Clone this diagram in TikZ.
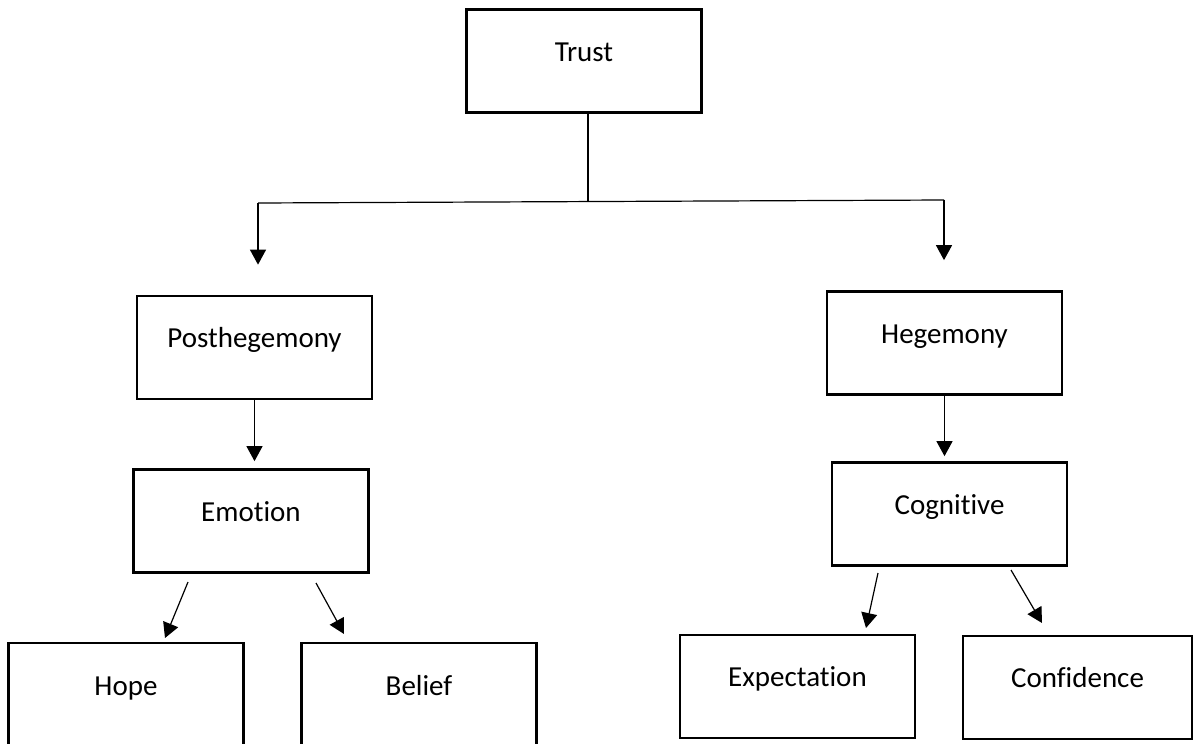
\documentclass[tikz,border=0pt]{standalone}
\usepackage{fontspec}
\setmainfont[Ligatures=NoCommon]{Carlito}
\usetikzlibrary{arrows.meta}

\tikzset{
  box/.style={draw, line width=2.7pt, rectangle, minimum width=235pt,
    minimum height=103pt, inner sep=0pt, text height=10pt, text depth=10pt,
    font=\fontsize{29}{35}\selectfont},
  thinline/.style={line width=1.2pt},
  arr/.style={thinline, -{Triangle[length=15pt,width=16pt]}}
}

\begin{document}
\begin{tikzpicture}[x=1pt,y=-1pt]
  \useasboundingbox[fill=white] (0,0) rectangle (1194,744);

  % boxes
  \node[box] (trust)  at (584,61)      {Trust};
  \node[box] (post)   at (254.5,347.5) {Posthegemony};
  \node[box] (hege)   at (944.5,343)   {Hegemony};
  \node[box] (emo)    at (251,521)     {Emotion};
  \node[box] (cog)    at (949.5,514)   {Cognitive};
  \node[box, minimum height=104pt] (hope)   at (126,695)   {Hope};
  \node[box, minimum height=104pt] (belief) at (419,695)   {Belief};
  \node[box] (expect) at (797.5,686.5) {Expectation};
  \node[box, minimum width=229pt] (conf) at (1077.5,687.5) {Confidence};

  % branching from Trust
  \coordinate (j)  at (588,202);
  \coordinate (jl) at (258,203);
  \coordinate (jr) at (944,200);
  \draw[thinline] (trust.south -| j) -- (j);
  \draw[thinline] (jl) -- (jr);
  \draw[arr, shorten >=30pt] (jl) -- (post.north -| jl);
  \draw[arr, shorten >=30pt] (jr) -- (hege.north -| jr);

  % second level
  \draw[arr, shorten >=7pt] (post.south) -- (emo.north -| post.south);
  \draw[arr, shorten >=5pt] (hege.south) -- (cog.north -| hege.south);

  % third level
  \coordinate (e1s) at (188,582);  \coordinate (e1t) at (165,638);
  \coordinate (e2s) at (316,583);  \coordinate (e2t) at (344,634);
  \coordinate (c1s) at (878,573);  \coordinate (c1t) at (866,628);
  \coordinate (c2s) at (1011,570); \coordinate (c2t) at (1042,623);
  \draw[arr] (e1s) -- (e1t);
  \draw[arr] (e2s) -- (e2t);
  \draw[arr] (c1s) -- (c1t);
  \draw[arr] (c2s) -- (c2t);
\end{tikzpicture}
\end{document}
